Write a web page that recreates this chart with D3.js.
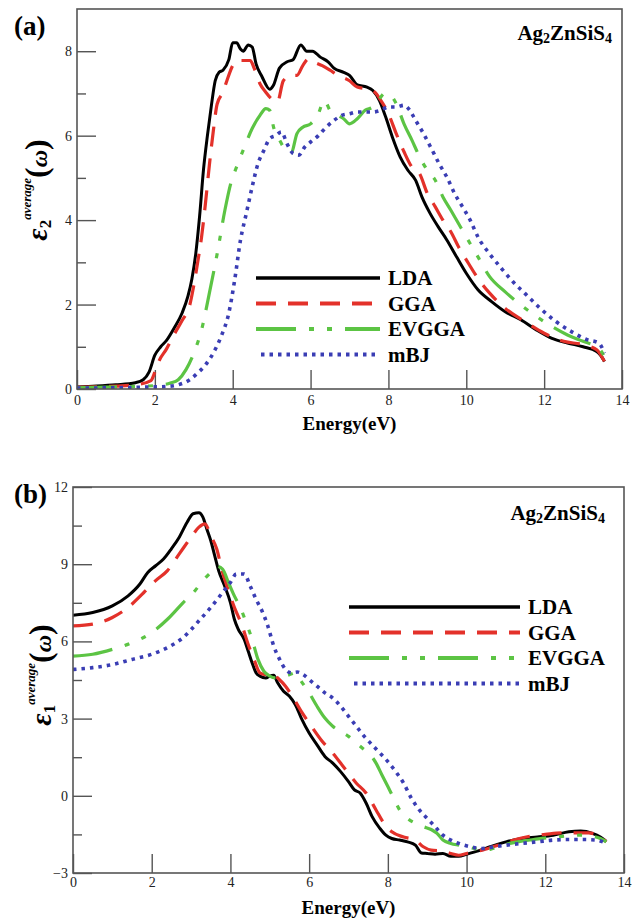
<!DOCTYPE html>
<html>
<head>
<meta charset="utf-8">
<script src="https://cdn.jsdelivr.net/npm/d3@7"></script>
<style>
  body { margin: 0; background: #fff; }
  svg { display: block; }
  text { font-family: "Liberation Serif", "Times New Roman", serif; }
</style>
</head>
<body>
<div id="chart"></div>
<script>
// energy (eV), eps value pairs
const series = ["LDA", "GGA", "EVGGA", "mBJ"]

const lda2 = [[0,0.05],[0.5,0.07],[1,0.1],[1.5,0.15],[1.7,0.22],[1.85,0.4],[2,0.8],[2.15,1],[2.3,1.15],[2.5,1.45],[2.7,1.8],[2.85,2.2],[2.95,2.6],[3.05,3.2],[3.15,4.1],[3.25,5.2],[3.35,6],[3.45,6.7],[3.55,7.3],[3.65,7.5],[3.75,7.55],[3.9,7.8],[4,8.2],[4.1,8.2],[4.2,8.05],[4.27,8],[4.4,8.15],[4.5,8.1],[4.6,7.7],[4.75,7.4],[4.95,7.1],[5.05,7.2],[5.2,7.6],[5.4,7.75],[5.55,7.8],[5.75,8.15],[5.9,8],[6.05,8],[6.25,7.86],[6.45,7.75],[6.6,7.6],[6.85,7.5],[7,7.43],[7.2,7.2],[7.45,7.15],[7.6,7.07],[7.77,6.83],[7.93,6.44],[8.1,5.97],[8.3,5.5],[8.5,5.18],[8.7,4.94],[8.86,4.55],[9.07,4.16],[9.28,3.84],[9.5,3.53],[9.75,3.13],[10,2.74],[10.3,2.35],[10.65,2.07],[11,1.83],[11.4,1.64],[11.8,1.4],[12.2,1.2],[12.6,1.09],[13,1],[13.35,0.89],[13.45,0.8],[13.55,0.65]]
const gga2 = [[0,0.04],[1,0.07],[1.5,0.1],[1.9,0.2],[2,0.4],[2.1,0.65],[2.3,0.95],[2.5,1.3],[2.7,1.62],[2.9,2],[3,2.45],[3.1,3],[3.2,3.6],[3.3,4.4],[3.4,5.3],[3.5,6.1],[3.6,6.75],[3.75,7.03],[3.85,7.3],[4,7.66],[4.1,7.78],[4.3,7.78],[4.45,7.78],[4.55,7.6],[4.7,7.23],[4.85,7.03],[5,6.87],[5.15,6.8],[5.3,7.3],[5.5,7.43],[5.65,7.43],[5.8,7.66],[5.95,7.82],[6.1,7.74],[6.3,7.66],[6.5,7.55],[6.7,7.43],[7,7.3],[7.2,7.15],[7.5,7.1],[7.65,7.03],[7.8,6.84],[8,6.52],[8.2,6.05],[8.4,5.62],[8.6,5.26],[8.8,5.1],[9,4.63],[9.2,4.32],[9.4,4],[9.6,3.73],[9.8,3.37],[10,3.06],[10.3,2.62],[10.6,2.27],[11,1.91],[11.5,1.6],[12,1.32],[12.5,1.13],[13,1.05],[13.35,0.93],[13.55,0.65]]
const evgga2 = [[0,0.03],[1,0.05],[2,0.08],[2.4,0.14],[2.6,0.22],[2.8,0.46],[3,0.85],[3.2,1.4],[3.4,2.27],[3.6,3.2],[3.8,4.24],[3.95,4.87],[4.1,5.26],[4.3,5.73],[4.5,6.17],[4.7,6.48],[4.85,6.64],[4.95,6.6],[5.05,6.2],[5.2,5.9],[5.4,5.62],[5.5,5.58],[5.65,6.05],[5.8,6.2],[6,6.28],[6.2,6.52],[6.35,6.84],[6.5,6.6],[6.7,6.48],[6.85,6.4],[7,6.28],[7.2,6.4],[7.4,6.6],[7.6,6.68],[7.75,6.84],[7.9,7],[8.05,6.96],[8.2,6.76],[8.4,6.28],[8.6,5.9],[8.8,5.5],[9,5.18],[9.2,4.95],[9.4,4.55],[9.6,4.24],[9.8,3.92],[10,3.6],[10.3,3.13],[10.6,2.66],[11,2.3],[11.4,1.99],[11.8,1.72],[12.2,1.48],[12.6,1.28],[13,1.13],[13.4,0.97],[13.55,0.77]]
const mbj2 = [[0,0.02],[1,0.03],[2,0.05],[2.3,0.06],[2.6,0.1],[2.9,0.22],[3.1,0.38],[3.3,0.57],[3.5,0.85],[3.7,1.24],[3.9,1.8],[4.05,2.58],[4.2,3.53],[4.35,4.16],[4.5,4.79],[4.65,5.34],[4.8,5.65],[4.95,5.93],[5.1,6],[5.25,6.09],[5.4,5.8],[5.55,5.58],[5.7,5.54],[5.85,5.73],[6,5.85],[6.2,6],[6.4,6.2],[6.6,6.36],[6.8,6.48],[7,6.52],[7.2,6.56],[7.4,6.56],[7.6,6.56],[7.8,6.6],[8,6.68],[8.2,6.68],[8.4,6.72],[8.55,6.6],[8.7,6.36],[8.9,6.05],[9.1,5.7],[9.3,5.34],[9.5,5.02],[9.7,4.63],[9.9,4.32],[10.1,4],[10.3,3.6],[10.6,3.2],[10.9,2.86],[11.2,2.54],[11.5,2.27],[11.9,1.91],[12.3,1.6],[12.7,1.36],[13.1,1.17],[13.4,1.09],[13.55,0.85]]

const lda1 = [[0,7.02],[0.5,7.12],[1,7.38],[1.4,7.77],[1.7,8.23],[1.9,8.68],[2.1,8.94],[2.3,9.2],[2.5,9.6],[2.7,10.05],[2.9,10.63],[3.05,10.96],[3.2,11],[3.3,10.83],[3.4,10.37],[3.5,9.92],[3.6,9.33],[3.7,8.75],[3.85,8.16],[4,7.51],[4.1,6.86],[4.2,6.47],[4.35,6.08],[4.45,5.63],[4.55,5.17],[4.65,4.78],[4.75,4.65],[4.9,4.58],[5,4.65],[5.1,4.68],[5.2,4.39],[5.35,4.06],[5.5,3.87],[5.65,3.54],[5.8,3.02],[6,2.44],[6.2,1.98],[6.4,1.53],[6.6,1.27],[6.8,0.94],[7,0.55],[7.15,0.23],[7.3,0.1],[7.45,-0.29],[7.6,-0.81],[7.8,-1.27],[7.95,-1.53],[8.1,-1.66],[8.3,-1.72],[8.5,-1.79],[8.7,-1.92],[8.85,-2.22],[9,-2.24],[9.2,-2.27],[9.4,-2.24],[9.6,-2.35],[9.8,-2.35],[10,-2.27],[10.3,-2.14],[10.6,-1.98],[11,-1.79],[11.4,-1.66],[11.8,-1.6],[12.2,-1.53],[12.6,-1.4],[12.9,-1.37],[13.2,-1.46],[13.4,-1.6],[13.55,-1.77]]
const gga1 = [[0,6.6],[0.5,6.67],[1,6.93],[1.4,7.32],[1.8,7.9],[2.1,8.36],[2.4,8.75],[2.7,9.4],[3,10.05],[3.2,10.44],[3.35,10.57],[3.5,10.11],[3.65,9.6],[3.8,8.68],[3.95,7.97],[4.1,7.32],[4.3,6.6],[4.45,5.89],[4.6,5.3],[4.75,4.78],[4.9,4.71],[5.05,4.78],[5.2,4.58],[5.4,4.26],[5.6,3.8],[5.8,3.28],[6,2.83],[6.3,2.18],[6.6,1.66],[6.9,1.07],[7.2,0.49],[7.45,0.1],[7.7,-0.55],[7.9,-1.07],[8.1,-1.4],[8.4,-1.6],[8.7,-1.72],[8.9,-1.98],[9.1,-2.11],[9.4,-2.14],[9.6,-2.24],[9.8,-2.31],[10,-2.24],[10.4,-2.11],[10.8,-1.92],[11.2,-1.72],[11.6,-1.57],[12,-1.5],[12.4,-1.44],[12.8,-1.44],[13.1,-1.44],[13.4,-1.6],[13.55,-1.79]]
const evgga1 = [[0,5.43],[0.5,5.5],[1,5.69],[1.5,5.95],[2,6.34],[2.4,6.86],[2.8,7.51],[3.1,7.97],[3.3,8.36],[3.5,8.68],[3.65,8.92],[3.8,8.81],[3.95,8.29],[4.1,7.77],[4.25,7.32],[4.4,6.73],[4.55,6.08],[4.7,5.3],[4.85,4.84],[5,4.65],[5.15,4.58],[5.3,4.65],[5.5,4.71],[5.65,4.78],[5.8,4.45],[6,4],[6.2,3.48],[6.4,3.02],[6.6,2.7],[6.8,2.5],[7,2.31],[7.2,2.05],[7.4,1.79],[7.55,1.6],[7.7,1.27],[7.85,0.81],[8,0.36],[8.15,-0.1],[8.3,-0.55],[8.5,-0.88],[8.7,-1.07],[8.9,-1.2],[9.1,-1.31],[9.25,-1.46],[9.4,-1.72],[9.6,-1.85],[9.8,-1.92],[10,-1.98],[10.2,-2.05],[10.4,-2.11],[10.6,-2.08],[10.9,-1.92],[11.3,-1.79],[11.7,-1.7],[12.1,-1.62],[12.5,-1.57],[12.9,-1.53],[13.2,-1.57],[13.4,-1.66],[13.55,-1.79]]
const mbj1 = [[0,4.91],[0.5,4.98],[1,5.1],[1.5,5.3],[2,5.5],[2.4,5.76],[2.8,6.15],[3.2,6.8],[3.5,7.32],[3.8,7.9],[4,8.29],[4.15,8.62],[4.35,8.62],[4.5,8.16],[4.65,7.64],[4.8,7.19],[4.95,6.6],[5.1,5.82],[5.25,5.3],[5.4,4.91],[5.55,4.78],[5.7,4.81],[5.85,4.71],[6,4.52],[6.2,4.26],[6.4,4],[6.6,3.8],[6.8,3.48],[7,3.09],[7.2,2.7],[7.4,2.31],[7.6,1.98],[7.8,1.66],[8,1.33],[8.2,0.94],[8.4,0.49],[8.6,-0.1],[8.8,-0.55],[9,-0.88],[9.2,-1.2],[9.4,-1.53],[9.6,-1.72],[9.8,-1.85],[10.1,-1.98],[10.4,-2.05],[10.7,-1.98],[11,-1.92],[11.4,-1.85],[11.8,-1.79],[12.2,-1.72],[12.6,-1.7],[13,-1.7],[13.3,-1.72],[13.55,-1.85]]

const xTicks = [0, 2, 4, 6, 8, 10, 12, 14]
const yTicksA = [0, 2, 4, 6, 8]
const yMinorA = [1, 3, 5, 7]
const yTicksB = [-3, 0, 3, 6, 9, 12]
const yMinorB = [-1.5, 1.5, 4.5, 7.5, 10.5]

const styles = {
  LDA: { color: "#000000", dash: null, width: 3 },
  GGA: { color: "#e3312a", dash: "20,12", width: 3.2 },
  EVGGA: { color: "#5cc444", dash: "40,13,5,13,5,13", width: 3.2 },
  mBJ: { color: "#3a3db4", dash: "3.5,5", width: 3.6 }
}

const W = 636, H = 920
const svg = d3.select("#chart").append("svg").attr("width", W).attr("height", H)

function drawPanel(p) {
  const x = d3.scaleLinear().domain([0, 14]).range([p.left, p.right])
  const y = d3.scaleLinear().domain(p.yDomain).range([p.bottom, p.top])
  const g = svg.append("g")

  const clipId = "clip-" + p.tag
  g.append("clipPath").attr("id", clipId).append("rect")
    .attr("x", p.left).attr("y", p.top)
    .attr("width", p.right - p.left).attr("height", p.bottom - p.top)

  // ticks point inward
  g.append("g").attr("transform", `translate(0,${p.bottom})`)
    .call(d3.axisBottom(x).tickValues(xTicks).tickSize(-19).tickPadding(p.xPad).tickFormat(d3.format("d")))
  g.append("g").attr("transform", `translate(${p.left},0)`)
    .call(d3.axisLeft(y).tickValues(p.yTicks).tickSize(-19).tickPadding(5).tickFormat(d3.format("d")))
  g.append("g").attr("transform", `translate(${p.left},0)`)
    .call(d3.axisLeft(y).tickValues(p.yMinor).tickSize(-9).tickFormat(""))
  g.selectAll(".domain").remove()
  g.selectAll(".tick line").attr("stroke", "#555").attr("stroke-width", 1.4)
  g.selectAll(".tick text").attr("fill", "#222").style("font-size", "14px")
    .style("font-family", "'Liberation Serif', serif")

  const line = d3.line().x(d => x(d[0])).y(d => y(d[1])).curve(d3.curveMonotoneX)
  const curves = g.append("g").attr("clip-path", `url(#${clipId})`)
  p.data.forEach((d, i) => {
    const s = styles[series[i]]
    curves.append("path").datum(d)
      .attr("d", line)
      .attr("fill", "none")
      .attr("stroke", s.color)
      .attr("stroke-width", s.width)
      .attr("stroke-dasharray", s.dash)
      .attr("stroke-linejoin", "round")
  })

  g.append("rect")
    .attr("x", p.left).attr("y", p.top)
    .attr("width", p.right - p.left).attr("height", p.bottom - p.top)
    .attr("fill", "none").attr("stroke", "#555").attr("stroke-width", 1.6)

  // legend
  const leg = g.append("g")
  series.forEach((name, i) => {
    const s = styles[name]
    const ly = p.legY + i * p.legStep
    leg.append("line")
      .attr("x1", name === "mBJ" ? p.legX1 + 5 : p.legX1).attr("x2", p.legX2)
      .attr("y1", ly).attr("y2", ly)
      .attr("stroke", s.color).attr("stroke-width", s.width + 0.6)
      .attr("stroke-dasharray", s.dash)
    leg.append("text")
      .attr("x", p.legText).attr("y", ly + 7)
      .style("font-size", "21px").style("font-weight", "bold")
      .text(name)
  })

  // compound title
  const t = g.append("text").attr("x", p.titleX).attr("y", p.titleY)
    .attr("text-anchor", "end")
    .style("font-size", "21px").style("font-weight", "bold")
  t.append("tspan").text("Ag")
  t.append("tspan").text("2").style("font-size", "14px").attr("dy", 3)
  t.append("tspan").text("ZnSiS").attr("dy", -3)
  t.append("tspan").text("4").style("font-size", "14px").attr("dy", 3)

  g.append("text").attr("x", 14).attr("y", p.tagY)
    .style("font-size", "27px").style("font-weight", "bold")
    .text(`(${p.tag})`)

  g.append("text").attr("x", (p.left + p.right) / 2).attr("y", p.xLabelY)
    .attr("text-anchor", "middle")
    .style("font-size", "19px").style("font-weight", "bold")
    .text("Energy(eV)")

  const yl = g.append("text")
    .attr("transform", `translate(${p.yLabelX},${p.yLabelY}) rotate(-90)`)
    .attr("text-anchor", "middle").style("font-weight", "bold")
  yl.append("tspan").text("ε").style("font-size", "30px").style("font-style", "italic")
  yl.append("tspan").text(p.sub).style("font-size", "17px").attr("dy", 4)
  yl.append("tspan").text("average").style("font-size", "13px").style("font-style", "italic").attr("dy", -20)
  yl.append("tspan").text("(").style("font-size", "32px").attr("dy", 16)
  yl.append("tspan").text("ω").style("font-size", "24px").style("font-style", "italic")
  yl.append("tspan").text(")").style("font-size", "32px")
}

drawPanel({
  tag: "a", left: 77, right: 622, top: 9, bottom: 389, yDomain: [0, 9],
  yTicks: yTicksA, yMinor: yMinorA, xPad: 6,
  data: [lda2, gga2, evgga2, mbj2], sub: "2",
  legX1: 256, legX2: 380, legText: 388, legY: 278, legStep: 25.5,
  titleX: 612, titleY: 40, tagY: 35, xLabelY: 430, yLabelX: 47, yLabelY: 190
})

drawPanel({
  tag: "b", left: 73, right: 624, top: 487, bottom: 873, yDomain: [-3, 12],
  yTicks: yTicksB, yMinor: yMinorB, xPad: 4,
  data: [lda1, gga1, evgga1, mbj1], sub: "1",
  legX1: 349, legX2: 520, legText: 528, legY: 607, legStep: 25.5,
  titleX: 605, titleY: 520, tagY: 503, xLabelY: 914, yLabelX: 51, yLabelY: 675
})
</script>
</body>
</html>
